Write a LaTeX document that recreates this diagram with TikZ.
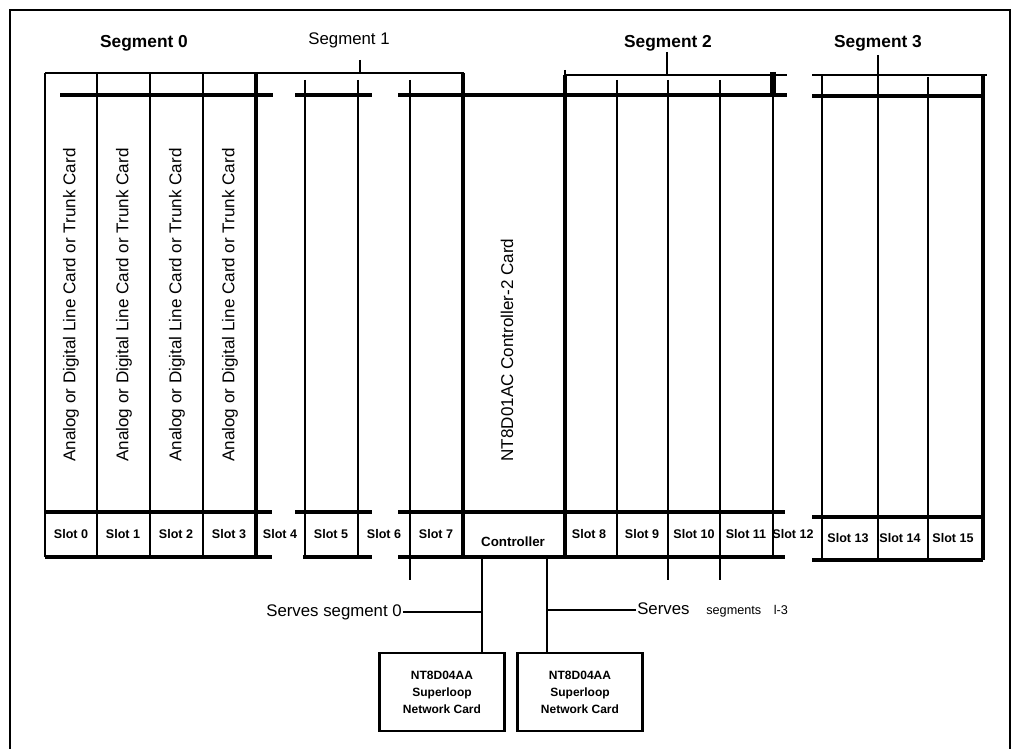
\documentclass[tikz,border=0pt]{standalone}
\usepackage{fontspec}
\setmainfont{Liberation Sans}
\usepackage{tikz}

\begin{document}
\begin{tikzpicture}[x=0.75pt,y=0.75pt,yscale=-1,xscale=1,
  rail/.style={line width=2.8pt},
  card/.style={line width=2.2pt},
  brk/.style={line width=1.5pt},
  slotlbl/.style={font=\fontsize{9.4}{11}\selectfont\bfseries, inner sep=0.75pt},
  seglbl/.style={font=\fontsize{13}{15}\selectfont\bfseries, inner sep=0.75pt},
  cardlbl/.style={font=\fontsize{12.8}{15}\selectfont, rotate=90, inner sep=0.75pt},
  netcard/.style={draw, line width=1.6pt, minimum width=93.75pt, minimum height=59pt, align=center, font=\fontsize{9}{12.75}\selectfont\bfseries}]
\useasboundingbox (0,0) rectangle (1018,749);

%Shape: Frame
\draw [line width=2.2pt] (10,749) -- (10,10) -- (1010,10) -- (1010,749) ;

%Straight Lines: segment brackets
\draw [brk] (463,96) -- (463,73) -- (45,73) ;
\draw [brk] (360,60) -- (360,73) ;
\draw [brk] (565,70) -- (565,75) -- (787,75) ;
\draw [brk] (667,52) -- (667,75) ;
\draw [brk] (812,75) -- (987,75) ;
\draw [brk] (878,55) -- (878,75) ;
\draw [line width=5pt] (773,72) -- (773,96) ;

%Straight Lines: top rails
\draw [rail] (60,95) -- (273,95) ;
\draw [rail] (295,95) -- (372,95) ;
\draw [rail] (398,95) -- (787,95) ;
\draw [rail] (812,96) -- (985,96) ;

%Straight Lines: card dividers
\draw [card] (45,73) -- (45,557) ;
\foreach \x in {97,150,203} { \draw [card] (\x,73) -- (\x,557) ; }
\draw [line width=3pt] (256,73) -- (256,557) ;
\foreach \x in {305,358} { \draw [card] (\x,80) -- (\x,557) ; }
\draw [card] (410,80) -- (410,580) ;
\draw [line width=3pt] (463,73) -- (463,557) ;
\draw [line width=3pt] (565,75) -- (565,557) ;
\draw [card] (617,80) -- (617,557) ;
\foreach \x in {668,720} { \draw [card] (\x,80) -- (\x,580) ; }
\draw [card] (773,72) -- (773,557) ;
\draw [card] (822,75) -- (822,560) ;
\draw [card] (878,75) -- (878,560) ;
\draw [card] (928,77) -- (928,560) ;
\draw [line width=3pt] (983,75) -- (983,560) ;

%Straight Lines: slot rails
\draw [rail] (45,512) -- (272,512) ;
\draw [rail] (45,557) -- (272,557) ;
\draw [rail] (295,512) -- (372,512) ;
\draw [rail] (303,557) -- (372,557) ;
\draw [rail] (398,512) -- (785,512) ;
\draw [rail] (398,557) -- (785,557) ;
\draw [rail] (812,517) -- (983,517) ;
\draw [rail] (812,560) -- (983,560) ;

% Text Node: segments
\node [seglbl] (seg0) at (144,43) {Segment 0};
\node [seglbl, font=\fontsize{12.6}{15}\selectfont] (seg1) at (349,40) {Segment 1};
\node [seglbl] (seg2) at (668,43) {Segment 2};
\node [seglbl] (seg3) at (878,43) {Segment 3};

% Text Node: cards
\foreach \x [count=\i from 0] in {71,124,177,230}
  { \node [cardlbl] (card\i) at (\x,305) {Analog or Digital Line Card or Trunk Card}; }
\node [cardlbl] (ctrlcard) at (507,350) {NT8D01AC Controller-2 Card};

% Text Node: slots
\foreach \x/\n in {71/0,123/1,176/2,229/3,280/4,331/5,384/6,436/7,589/8,642/9,694/10,746/11,793/12}
  { \node [slotlbl] (slot\n) at (\x,534) {Slot \n}; }
\foreach \x/\n in {848/13,900/14,953/15}
  { \node [slotlbl] (slot\n) at (\x,538) {Slot \n}; }
\node [slotlbl, font=\fontsize{10}{12}\selectfont\bfseries] (ctrl) at (513,542) {Controller};

% Network cards
\node [netcard] (net0) at (442,692) {NT8D04AA\\Superloop\\Network Card};
\node [netcard] (net1) at (580,692) {NT8D04AA\\Superloop\\Network Card};

\coordinate (ctrl0) at (482,557);
\coordinate (ctrl1) at (547,557);
\draw [line width=1.5pt] (ctrl0) -- (ctrl0 |- net0.north) ;
\draw [line width=1.5pt] (ctrl1) -- (ctrl1 |- net1.north) ;

% Text Node: serves
\node [anchor=east, inner sep=0.75pt, font=\fontsize{12.6}{15}\selectfont] (srv0) at (403,612) {Serves segment 0};
\node [anchor=west, inner sep=0.75pt] (srv1) at (636,610) {\fontsize{12.6}{15}\selectfont Serves\quad\fontsize{9.5}{12}\selectfont segments\quad l-3};
\draw [line width=1pt] (srv0.east) -- (srv0.east -| ctrl0) ;
\draw [line width=1pt] (srv1.west) -- (srv1.west -| ctrl1) ;

\end{tikzpicture}
\end{document}
